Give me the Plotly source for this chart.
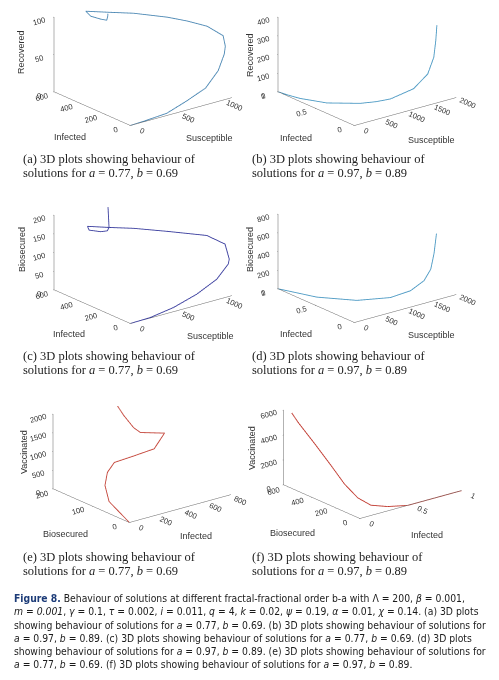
import plotly.graph_objects as go

# page body keeps an 8px margin, so the figure is drawn 8px in from the corner
OFF = 8
W, H = 483, 664

# (a) a=0.77, b=0.69 : Susceptible / Infected / Recovered
a_sus = [0, 140, 400, 615, 830, 975, 1050, 1075, 1085, 1031, 909, 800, 634, 488, 317, 344, 425, 477, 488, 490]
a_inf = [0, 2, 5, 8, 12, 18, 25, 35, 60, 150, 220, 300, 450, 550, 600, 580, 560, 550, 550, 550]
a_rec = [0, 0.5, 2.4, 11, 21, 39, 58, 67, 79, 87, 93, 96, 96, 95, 98.5, 92.4, 87.2, 84.7, 89.8, 93]

# (b) a=0.97, b=0.89 : Susceptible / Infected / Recovered
b_sus = [0, 35, 84, 287, 679, 911, 1085, 1391, 1625, 1714, 1738, 1745]
b_inf = [1, 0.88, 0.77, 0.55, 0.376, 0.32, 0.25, 0.15, 0.12, 0.1, 0.09, 0.08]
b_rec = [0, 0, 0, 0, 0, 2, 16, 66, 133, 219, 308, 392]

# (c) a=0.77, b=0.69 : Susceptible / Infected / Biosecured
c_sus = [0, 216, 471, 727, 949, 1076, 1091, 1065, 1028, 797, 637, 502, 335, 340, 439, 491, 502, 491]
c_inf = [0, 0, 3, 6, 10, 12, 15, 30, 150, 300, 450, 550, 600, 590, 570, 555, 550, 550]
c_bio = [0, 1.4, 10.4, 28.3, 52.8, 84.4, 96.4, 136, 144, 149, 146, 143, 150, 141, 133, 134, 143, 198]

# (d) a=0.97, b=0.89 : Susceptible / Infected / Biosecured
d_sus = [0, 241, 638, 1085, 1362, 1566, 1670, 1720, 1752]
d_inf = [1, 0.654, 0.392, 0.25, 0.17, 0.13, 0.11, 0.1, 0.09]
d_bio = [0, 0, 0, 15, 76, 167, 282, 451, 658]

# (e) a=0.77, b=0.69 : Infected / Biosecured / Vaccinated
e_inf = [0, 12, 23, 72, 143, 305, 485, 592, 412, 416, 422, 472]
e_bio = [0, 60, 75, 85, 90, 93, 97, 105, 110, 130, 160, 200]
e_vac = [0, 293, 650, 912, 1091, 1100, 1115, 1403, 1561, 1600, 1803, 1927]

# (f) a=0.97, b=0.89 : Infected / Biosecured / Vaccinated
f_inf = [1, 0.726, 0.47, 0.333, 0.2, 0.12, 0.08, 0.05, 0.03, 0.02, 0.01]
f_bio = [0, 0, 0, 51, 78, 120, 197, 283, 401, 532, 585]
f_vac = [0, 0, 0, 0, 290, 885, 1752, 2929, 4198, 5385, 6046]

panels = [
    dict(x=a_sus, y=a_inf, z=a_rec, color="#4f8ab5",
         xr=[0, 1100], yr=[0, 620], zr=[0, 100],
         xt=[0, 500, 1000], yt=[0, 200, 400, 600], zt=[0, 50, 100],
         names=("Susceptible", "Infected", "Recovered"), center=(142.5, 57)),
    dict(x=b_sus, y=b_inf, z=b_rec, color="#4d9ac4",
         xr=[0, 2000], yr=[0, 1], zr=[0, 400],
         xt=[0, 500, 1000, 1500, 2000], yt=[0, 0.5, 1], zt=[0, 100, 200, 300, 400],
         names=("Susceptible", "Infected", "Recovered"), center=(366.5, 57.5)),
    dict(x=c_sus, y=c_inf, z=c_bio, color="#3c3f9f",
         xr=[0, 1100], yr=[0, 620], zr=[0, 200],
         xt=[0, 500, 1000], yt=[0, 200, 400, 600], zt=[0, 50, 100, 150, 200],
         names=("Susceptible", "Infected", "Biosecured"), center=(142.5, 255)),
    dict(x=d_sus, y=d_inf, z=d_bio, color="#4d9ac4",
         xr=[0, 2000], yr=[0, 1], zr=[0, 800],
         xt=[0, 500, 1000, 1500, 2000], yt=[0, 0.5, 1], zt=[0, 200, 400, 600, 800],
         names=("Susceptible", "Infected", "Biosecured"), center=(366.5, 254)),
    dict(x=e_inf, y=e_bio, z=e_vac, color="#c4453a",
         xr=[0, 820], yr=[0, 210], zr=[0, 2000],
         xt=[0, 200, 400, 600, 800], yt=[0, 100, 200], zt=[0, 500, 1000, 1500, 2000],
         names=("Infected", "Biosecured", "Vaccinated"), center=(142, 454)),
    dict(x=f_inf, y=f_bio, z=f_vac, color="#c0392f",
         xr=[0, 1], yr=[0, 640], zr=[0, 6000],
         xt=[0, 0.5, 1], yt=[0, 200, 400, 600], zt=[0, 2000, 4000, 6000],
         names=("Infected", "Biosecured", "Vaccinated"), center=(374, 450)),
]

# axis title positions (screen px) : x-title, y-title, z-title
title_pos = [
    ((209, 138), (70, 137), (21, 52)),
    ((431, 140), (296, 138), (250, 55)),
    ((210, 336), (69, 334), (22, 250)),
    ((431, 335), (296, 334), (250, 250)),
    ((196, 536), (65, 534), (24, 452)),
    ((427, 535), (292, 533), (252, 448)),
]

captions = [
    ("(a)", "0.77", "0.69", 21, 159),
    ("(b)", "0.97", "0.89", 250, 159),
    ("(c)", "0.77", "0.69", 21, 356),
    ("(d)", "0.97", "0.89", 250, 356),
    ("(e)", "0.77", "0.69", 21, 557),
    ("(f)", "0.97", "0.89", 250, 557),
]


def px(sx):
    return (sx - OFF) / W


def py(sy):
    return 1 - (sy - OFF) / H


fig = go.Figure()
tick_font = dict(family="Liberation Sans, Arial, sans-serif", size=9.5, color="#333")


def axis(rng, tv):
    return dict(range=rng, tickmode="array", tickvals=tv, showgrid=False,
                showbackground=False, zeroline=False, showline=True,
                linecolor="#666", linewidth=1, ticks="outside", ticklen=1,
                tickcolor="#666", tickfont=tick_font, showspikes=False,
                title=dict(text=""))


eye_dir = (-0.580, -0.736, 0.348)
eye_dist = 3.0
cz = -0.297          # look a little below the box centre so it sits high in its domain
dom_w, dom_up, dom_dn = 120, 48.5, 85
for k, p in enumerate(panels):
    sid = "scene" if k == 0 else f"scene{k + 1}"
    fig.add_trace(go.Scatter3d(x=p["x"], y=p["y"], z=p["z"], mode="lines",
                               line=dict(color=p["color"], width=1.8),
                               hoverinfo="skip", showlegend=False,
                               scene=sid))
    cx, cy = p["center"]
    fig.layout[sid] = dict(
        domain=dict(x=[max(0, px(cx - dom_w)), min(1, px(cx + dom_w))],
                    y=[max(0, py(cy + dom_dn)), min(1, py(cy - dom_up))]),
        xaxis=axis(p["xr"], p["xt"]),
        yaxis=axis(p["yr"], p["yt"]),
        zaxis=axis(p["zr"], p["zt"]),
        aspectmode="manual",
        aspectratio=dict(x=1.93, y=1.84, z=1.19),
        camera=dict(eye=dict(x=eye_dir[0] * eye_dist, y=eye_dir[1] * eye_dist,
                             z=cz + eye_dir[2] * eye_dist),
                    center=dict(x=0, y=0, z=cz),
                    up=dict(x=0, y=0, z=1),
                    projection=dict(type="orthographic")),
        bgcolor="rgba(0,0,0,0)",
    )
    lab_font = dict(family="Liberation Sans, Arial, sans-serif", size=9, color="#333")
    (xx, xy), (yx, yy), (zx, zy) = title_pos[k]
    for (tx, ty), name, ang in (((xx, xy), p["names"][0], 0),
                                ((yx, yy), p["names"][1], 0),
                                ((zx, zy), p["names"][2], -90)):
        fig.add_annotation(x=px(tx), y=py(ty), text=name, showarrow=False,
                           xanchor="center", yanchor="middle", textangle=ang,
                           xref="paper", yref="paper", font=lab_font)

cap_font = dict(family="Liberation Serif, DejaVu Serif, serif", size=12.5, color="#222")
for tag, av, bv, x0, y0 in captions:
    fig.add_annotation(x=px(x0), y=py(y0), xanchor="left", yanchor="middle",
                       text=f"{tag} 3D plots showing behaviour of",
                       showarrow=False, xref="paper", yref="paper", font=cap_font)
    fig.add_annotation(x=px(x0), y=py(y0 + 14), xanchor="left", yanchor="middle",
                       text=f"solutions for <i>a</i> = {av}, <i>b</i> = {bv}",
                       showarrow=False, xref="paper", yref="paper", font=cap_font)

fig_lines = [
    "<b><span style='color:#1d3c78'>Figure 8.</span></b> Behaviour of solutions at different fractal-fractional order b-a with Λ = 200, <i>β</i> = 0.001,",
    "<i>m</i> = <i>0.001</i>, <i>γ</i> = 0.1, <i>τ</i> = 0.002, <i>i</i> = 0.011, <i>q</i> = 4, <i>k</i> = 0.02, <i>ψ</i> = 0.19, <i>α</i> = 0.01, <i>χ</i> = 0.14. (a) 3D plots",
    "showing behaviour of solutions for <i>a</i> = 0.77, <i>b</i> = 0.69. (b) 3D plots showing behaviour of solutions for",
    "<i>a</i> = 0.97, <i>b</i> = 0.89. (c) 3D plots showing behaviour of solutions for <i>a</i> = 0.77, <i>b</i> = 0.69. (d) 3D plots",
    "showing behaviour of solutions for <i>a</i> = 0.97, <i>b</i> = 0.89. (e) 3D plots showing behaviour of solutions for",
    "<i>a</i> = 0.77, <i>b</i> = 0.69. (f) 3D plots showing behaviour of solutions for <i>a</i> = 0.97, <i>b</i> = 0.89.",
]
body_font = dict(family="Liberation Sans Narrow, DejaVu Sans Condensed, Arial Narrow, sans-serif",
                 size=10.3, color="#1a1a1a")
for i, line in enumerate(fig_lines):
    fig.add_annotation(x=px(12), y=py(598.3 + i * 13.15), xanchor="left", yanchor="middle",
                       text=line, showarrow=False, xref="paper", yref="paper", font=body_font)

fig.update_layout(width=W, height=H, margin=dict(l=0, r=0, t=0, b=0),
                  paper_bgcolor="white", plot_bgcolor="white", hovermode=False)

fig.write_html("out.html")
